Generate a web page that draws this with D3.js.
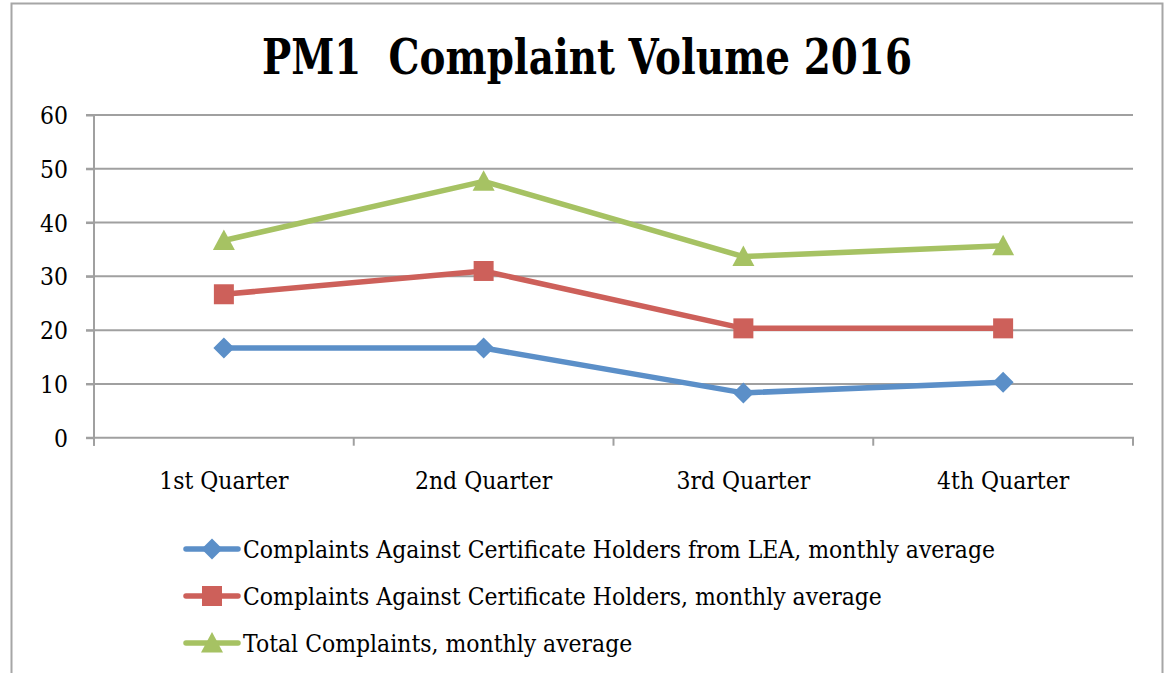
<!DOCTYPE html>
<html><head><meta charset="utf-8">
<script src="https://cdnjs.cloudflare.com/ajax/libs/d3/7.8.5/d3.min.js"></script>
<style>html,body{margin:0;padding:0;background:#fff;}svg{display:block;}</style>
</head><body>
<script>
const categories = ["1st Quarter","2nd Quarter","3rd Quarter","4th Quarter"];
const seriesNames = [
  "Complaints Against Certificate Holders from LEA, monthly average",
  "Complaints Against Certificate Holders, monthly average",
  "Total Complaints, monthly average"
];
const lea = [16.67, 16.67, 8.33, 10.33];
const holders = [26.67, 31, 20.33, 20.33];
const total = [36.67, 47.67, 33.67, 35.67];
const yTicks = [0,10,20,30,40,50,60];
const title = "PM1  Complaint Volume 2016";

const series = [
  {name: seriesNames[0], values: lea, color: "#5b8fc8", marker: "diamond"},
  {name: seriesNames[1], values: holders, color: "#cd605a", marker: "square"},
  {name: seriesNames[2], values: total, color: "#a6c263", marker: "triangle"}
];

const W = 1165, H = 673;
const svg = d3.select("body").append("svg").attr("width", W).attr("height", H);
const FONT = "DejaVu Serif, Liberation Serif, serif";
const FS = 24;

// outer frame (bottom open)
svg.append("path").attr("d", `M11.5,${H} L11.5,3.5 L1162.5,3.5 L1162.5,${H}`)
  .attr("fill","none").attr("stroke","#a6a6a6").attr("stroke-width",2);

const x = d3.scaleBand().domain(categories).range([94, 1133]).padding(0);
const y = d3.scaleLinear().domain([0, 60]).range([437.7, 115]);

// gridlines
svg.append("g").selectAll("line").data(yTicks.filter(d => d > 0)).join("line")
  .attr("x1", 86).attr("x2", 1133)
  .attr("y1", d => y(d)).attr("y2", d => y(d))
  .attr("stroke", "#a0a0a0").attr("stroke-width", 2);

// y axis
const yAxis = svg.append("g").attr("transform", "translate(94,0)")
  .call(d3.axisLeft(y).tickValues(yTicks).tickSize(8).tickPadding(18));
yAxis.select(".domain").attr("stroke", "#a0a0a0").attr("stroke-width", 2).attr("d", `M0,${y(60)}V${y(0)+8}`);
yAxis.selectAll(".tick line").attr("stroke", "#a0a0a0").attr("stroke-width", 2);
yAxis.selectAll(".tick text").attr("font-family", FONT).attr("font-size", FS).attr("fill", "#000").attr("dy","0.36em")
  .attr("class","lbl");

// x axis line + boundary ticks
svg.append("line").attr("x1", 86).attr("x2", 1134).attr("y1", y(0)).attr("y2", y(0))
  .attr("stroke", "#a0a0a0").attr("stroke-width", 2);
const bounds = categories.map(c => x(c)).concat([x.range()[1]]);
svg.append("g").selectAll("line").data(bounds).join("line")
  .attr("x1", d => d).attr("x2", d => d).attr("y1", y(0)).attr("y2", y(0) + 8)
  .attr("stroke", "#a0a0a0").attr("stroke-width", 2);
svg.append("g").selectAll("text").data(categories).join("text")
  .attr("class","lbl")
  .attr("x", d => x(d) + x.bandwidth()/2).attr("y", 489)
  .attr("text-anchor", "middle").attr("font-family", FONT).attr("font-size", FS)
  .text(d => d);

// title
svg.append("text").attr("x", 587).attr("y", 74).attr("text-anchor","middle")
  .style("white-space","pre").attr("xml:space","preserve")
  .attr("font-family", FONT).attr("font-weight","bold").attr("font-size", 49).text(title)
  .attr("textLength", 650).attr("lengthAdjust","spacingAndGlyphs");

function markerPath(type) {
  if (type === "diamond") return "M0,-10.5L10.5,0L0,10.5L-10.5,0Z";
  if (type === "square") return "M-10,-10H10V10H-10Z";
  return "M0,-11L11,9.5H-11Z";
}

const line = d3.line().x((d, i) => x(categories[i]) + x.bandwidth()/2).y(d => y(d));
series.forEach(s => {
  svg.append("path").attr("d", line(s.values)).attr("fill","none")
    .attr("stroke", s.color).attr("stroke-width", 5.5).attr("stroke-linejoin","round");
  svg.append("g").selectAll("path").data(s.values).join("path")
    .attr("transform", (d, i) => `translate(${x(categories[i]) + x.bandwidth()/2},${y(d)})`)
    .attr("d", markerPath(s.marker)).attr("fill", s.color);
});

// legend
const legY = [549, 596, 643];
series.forEach((s, i) => {
  const g = svg.append("g").attr("transform", `translate(0,${legY[i]})`);
  g.append("line").attr("x1", 186).attr("x2", 238).attr("y1", 0).attr("y2", 0)
    .attr("stroke", s.color).attr("stroke-width", 5.5).attr("stroke-linecap","round");
  g.append("path").attr("transform", "translate(212,0)").attr("d", markerPath(s.marker)).attr("fill", s.color);
  g.append("text").attr("class","lbl").attr("x", 243).attr("y", 0).attr("dy", "0.36em")
    .attr("font-family", FONT).attr("font-size", FS).text(s.name);
});

// horizontal compression so DejaVu Serif matches the reference's narrower face
const ref = svg.selectAll("text.lbl").filter(function(){ return this.textContent === seriesNames[0]; }).node();
const scale = 752 / ref.getComputedTextLength();
svg.selectAll("text.lbl").each(function(){
  const w = this.getComputedTextLength();
  d3.select(this).attr("textLength", w * scale).attr("lengthAdjust", "spacingAndGlyphs");
});
</script>
</body></html>
